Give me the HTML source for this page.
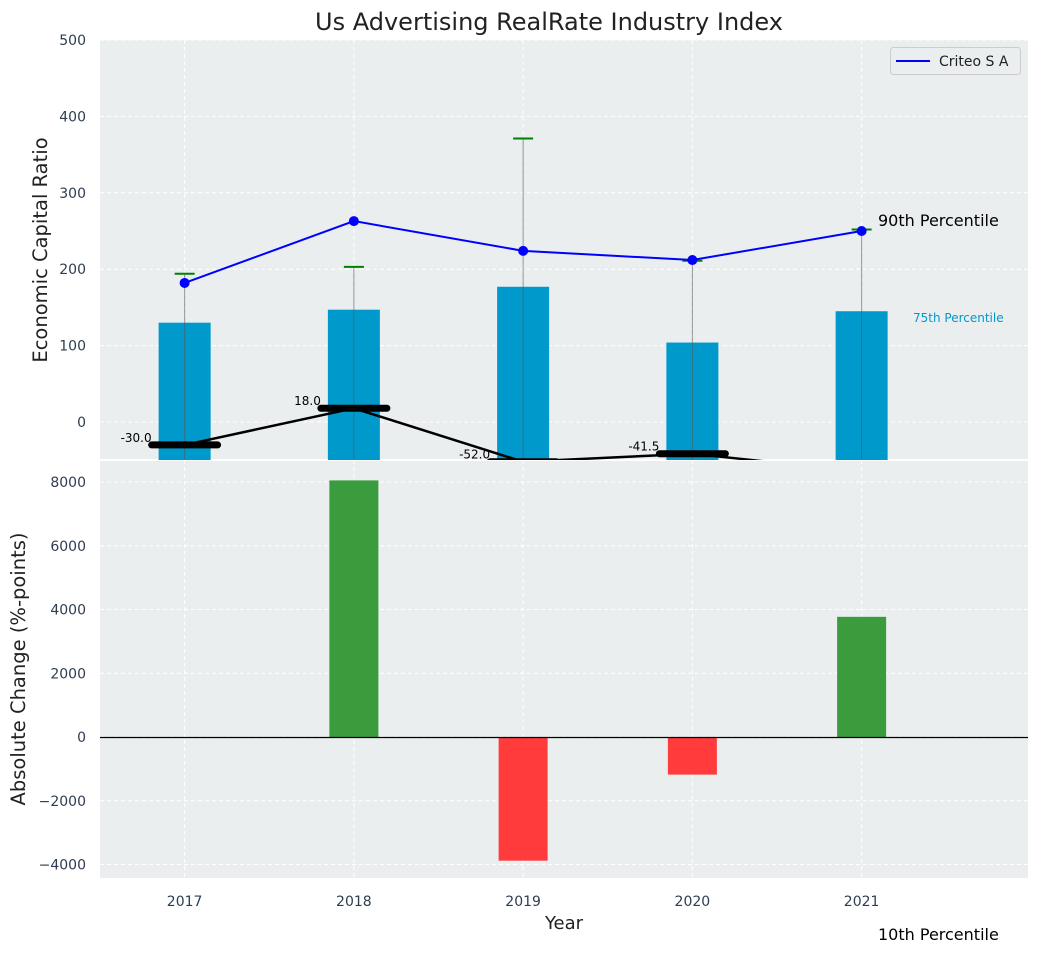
<!DOCTYPE html>
<html><head><meta charset="utf-8"><style>
body{margin:0;background:#fff}
svg{font-family:"DejaVu Sans","Liberation Sans",sans-serif}
</style></head><body>
<svg id="c" width="1039" height="954" xmlns="http://www.w3.org/2000/svg">
<defs><clipPath id="topclip"><rect x="100" y="40" width="928" height="420"/></clipPath>
<clipPath id="botclip"><rect x="100" y="460" width="928" height="418"/></clipPath></defs>
</svg>
<script>
const years=[2017,2018,2019,2020,2021];
const barVals=[130,147,177,104,145];
const lineVals=[182,263,224,212,250];
const capVals=[194,203,371,211,252];
const medVals=[-30,18,-52,-41.5,-65];
const medLabels=["-30.0","18.0","-52.0","-41.5",""];
const changeVals=[0,8050,-3880,-1180,3770];
const topTicks=[0,100,200,300,400,500];
const botTicks=[-4000,-2000,0,2000,4000,6000,8000];
const NS="http://www.w3.org/2000/svg";
const svg=document.getElementById('c');
const X=v=>100+(v-2016.5)*169.25;
const Yt=v=>422-v*0.764;
const Yb=v=>737-v*0.031875;
function mk(t,a,p){const e=document.createElementNS(NS,t);for(const k in a)e.setAttribute(k,a[k]);(p||svg).appendChild(e);return e;}
let bg=mk('rect',{x:100,y:40,width:928,height:420,fill:'#eaeeef'});


bg=mk('rect',{x:100,y:460,width:928,height:418,fill:'#eaeeef'});


mk('line',{x1:100,x2:1028,y1:460,y2:460,stroke:'#fff','stroke-width':2});
topTicks.forEach(t=>{mk('line',{x1:100,x2:1028,y1:Yt(t),y2:Yt(t),stroke:'#fff','stroke-dasharray':'4,3'});
const l=mk('text',{x:86,y:Yt(t)+5,'text-anchor':'end','font-size':14,fill:'#2e3e50'});l.textContent=t;

});
botTicks.forEach(t=>{mk('line',{x1:100,x2:1028,y1:Yb(t),y2:Yb(t),stroke:'#fff','stroke-dasharray':'4,3'});
const l=mk('text',{x:86,y:Yb(t)+5,'text-anchor':'end','font-size':14,fill:'#2e3e50'});l.textContent=t<0?'\u2212'+(-t):t;

});
years.forEach(y=>{mk('line',{x1:X(y),x2:X(y),y1:40,y2:878,stroke:'#fff','stroke-dasharray':'4,3'});
const l=mk('text',{x:X(y),y:906,'text-anchor':'middle','font-size':14,fill:'#2e3e50'});l.textContent=y;

});
const gt=mk('g',{'clip-path':'url(#topclip)'});
years.forEach((y,i)=>{
 const b=mk('rect',{x:X(y)-26,y:Yt(barVals[i]),width:52,height:Yt(-60)-Yt(barVals[i]),fill:'#0099cc'},gt);
 
 
 mk('line',{x1:X(y),x2:X(y),y1:Yt(capVals[i]),y2:470,stroke:'#555','stroke-opacity':0.6,'stroke-width':1},gt);
 const c=mk('line',{x1:X(y)-10,x2:X(y)+10,y1:Yt(capVals[i]),y2:Yt(capVals[i]),stroke:'green','stroke-width':2},gt);
 
 
});
let pts=years.map((y,i)=>X(y)+','+Yt(medVals[i])).join(' ');
mk('polyline',{points:pts,fill:'none',stroke:'#000','stroke-width':2.5},gt);
years.forEach((y,i)=>{
 const m=mk('line',{x1:X(y)-33,x2:X(y)+33,y1:Yt(medVals[i]),y2:Yt(medVals[i]),stroke:'#000','stroke-width':7,'stroke-linecap':'round'},gt);
 
 
 if(medLabels[i]){const t=mk('text',{x:X(y)-33,y:Yt(medVals[i])-3,'text-anchor':'end','font-size':12,fill:'#000'},svg);t.textContent=medLabels[i];
 
 }
});
pts=years.map((y,i)=>X(y)+','+Yt(lineVals[i])).join(' ');
const pl=mk('polyline',{points:pts,fill:'none',stroke:'#0000ff','stroke-width':2},gt);


years.forEach((y,i)=>{const d=mk('circle',{cx:X(y),cy:Yt(lineVals[i]),r:5,fill:'#0000ff'},gt);

});
const gb=mk('g',{'clip-path':'url(#botclip)'});
years.forEach((y,i)=>{const v=changeVals[i];if(!v)return;
 const r=mk('rect',{x:X(y)-24.5,y:Math.min(Yb(v),Yb(0)),width:49,height:Math.abs(Yb(v)-Yb(0)),fill:v>0?'#3a9c3c':'#ff3b3b'},gb);
 
 });
mk('line',{x1:100,x2:1028,y1:Math.round(Yb(0))+0.5,y2:Math.round(Yb(0))+0.5,stroke:'#000','stroke-width':1.2});
</script>
<svg style="position:absolute;left:0;top:0" width="1039" height="954" xmlns="http://www.w3.org/2000/svg">
<text x="549" y="30" text-anchor="middle" font-size="24" fill="#222" font-family="DejaVu Sans, Liberation Sans, sans-serif">Us Advertising RealRate Industry Index</text>
<text transform="translate(47,250) rotate(-90)" text-anchor="middle" font-size="19.5" fill="#222" font-family="DejaVu Sans, Liberation Sans, sans-serif">Economic Capital Ratio</text>
<text transform="translate(25,669) rotate(-90)" text-anchor="middle" font-size="19.5" fill="#222" font-family="DejaVu Sans, Liberation Sans, sans-serif">Absolute Change (%-points)</text>
<text x="564" y="929" text-anchor="middle" font-size="18" fill="#222" font-family="DejaVu Sans, Liberation Sans, sans-serif">Year</text>
<text x="878" y="226" font-size="16" fill="#000" font-family="DejaVu Sans, Liberation Sans, sans-serif">90th Percentile</text>
<text x="913" y="322" font-size="12" fill="#0099cc" font-family="DejaVu Sans, Liberation Sans, sans-serif">75th Percentile</text>
<text x="878" y="940" font-size="16" fill="#000" font-family="DejaVu Sans, Liberation Sans, sans-serif">10th Percentile</text>
<g>
<rect x="890.5" y="47.5" width="130" height="27" rx="3" fill="#eaeeef" stroke="#ccc"/>
<line x1="896" x2="930" y1="61" y2="61" stroke="#0000ff" stroke-width="2"/>
<text x="939" y="66" font-size="14" fill="#222" font-family="DejaVu Sans, Liberation Sans, sans-serif">Criteo S A</text>
</g>
</svg>
</body></html>
